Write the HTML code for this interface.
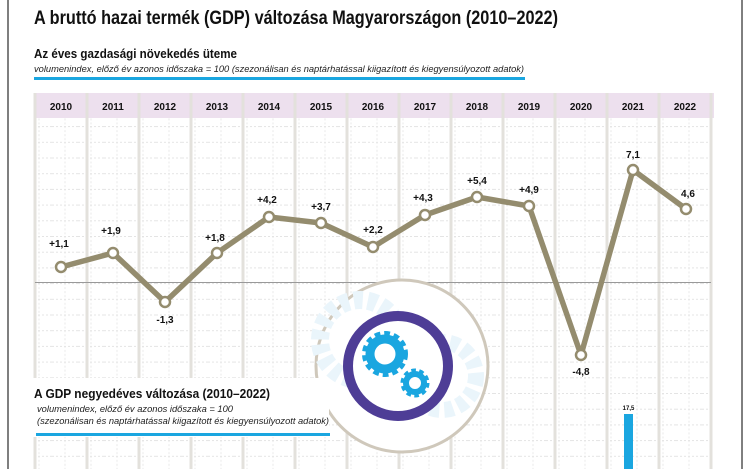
<!DOCTYPE html>
<html><head><meta charset="utf-8"><style>
html,body{margin:0;padding:0;background:#fff;}
body{width:750px;height:469px;overflow:hidden;position:relative;font-family:"Liberation Sans",sans-serif;}
</style></head><body>
<svg width="750" height="469" viewBox="0 0 750 469" xmlns="http://www.w3.org/2000/svg" style="position:absolute;left:0;top:0">
<defs>
<pattern id="hg" x="0" y="0.5" width="26" height="15.7" patternUnits="userSpaceOnUse">
<path d="M0 0.5H26" stroke="#dcdcdc" stroke-width="0.8" stroke-dasharray="2 2"/>
<path d="M13 0V15.7" stroke="#e4e4e4" stroke-width="0.8" stroke-dasharray="2 2"/>
</pattern>
</defs>
<rect x="8" y="-2" width="734" height="480" fill="none" stroke="#555" stroke-width="1.5"/>
<text x="34" y="24" font-size="19.5" font-weight="bold" fill="#111" textLength="524" lengthAdjust="spacingAndGlyphs">A bruttó hazai termék (GDP) változása Magyarországon (2010–2022)</text>
<text x="34" y="58" font-size="13" font-weight="bold" fill="#111" textLength="203" lengthAdjust="spacingAndGlyphs">Az éves gazdasági növekedés üteme</text>
<text x="34" y="72" font-size="9" font-style="italic" fill="#222" textLength="490" lengthAdjust="spacingAndGlyphs">volumenindex, előző év azonos időszaka = 100 (szezonálisan és naptárhatással kiigazított és kiegyensúlyozott adatok)</text>
<rect x="34" y="77" width="491" height="3" fill="#1aa6e0"/>
<rect x="35" y="118" width="677" height="351" fill="url(#hg)"/>
<rect x="34" y="93" width="680" height="25" fill="#ede0ee"/>
<g stroke="#e3e1dc" stroke-width="3">
<line x1="35" y1="93" x2="35" y2="469"/><line x1="87" y1="93" x2="87" y2="469"/><line x1="139" y1="93" x2="139" y2="469"/><line x1="191" y1="93" x2="191" y2="469"/><line x1="243" y1="93" x2="243" y2="469"/><line x1="295" y1="93" x2="295" y2="469"/><line x1="347" y1="93" x2="347" y2="469"/><line x1="399" y1="93" x2="399" y2="469"/><line x1="451" y1="93" x2="451" y2="469"/><line x1="503" y1="93" x2="503" y2="469"/><line x1="555" y1="93" x2="555" y2="469"/><line x1="607" y1="93" x2="607" y2="469"/><line x1="659" y1="93" x2="659" y2="469"/><line x1="711" y1="93" x2="711" y2="469"/>
</g>
<g font-size="10" font-weight="bold" fill="#111" text-anchor="middle">
<text x="61" y="110">2010</text><text x="113" y="110">2011</text><text x="165" y="110">2012</text><text x="217" y="110">2013</text><text x="269" y="110">2014</text><text x="321" y="110">2015</text><text x="373" y="110">2016</text><text x="425" y="110">2017</text><text x="477" y="110">2018</text><text x="529" y="110">2019</text><text x="581" y="110">2020</text><text x="633" y="110">2021</text><text x="685" y="110">2022</text>
</g>
<line x1="35" y1="282.5" x2="711" y2="282.5" stroke="#999" stroke-width="1"/>
<circle cx="402" cy="366" r="86" fill="#fff" stroke="#cfc8bb" stroke-width="3"/>
<circle cx="360" cy="340" r="40" fill="none" stroke="#eaf5fb" stroke-width="18" stroke-dasharray="9 5"/>
<circle cx="442" cy="376" r="34" fill="none" stroke="#eaf5fb" stroke-width="16" stroke-dasharray="9 5"/>
<circle cx="398" cy="366" r="50" fill="#fff" stroke="#4e3d96" stroke-width="10"/>
<circle cx="385" cy="354" r="18" fill="none" stroke="#1aa6e0" stroke-width="10" stroke-dasharray="5 3.4"/>
<circle cx="385" cy="354" r="15" fill="none" stroke="#1aa6e0" stroke-width="9"/>
<circle cx="415" cy="383" r="11" fill="none" stroke="#1aa6e0" stroke-width="7" stroke-dasharray="4 2.9"/>
<circle cx="415" cy="383" r="9" fill="none" stroke="#1aa6e0" stroke-width="6"/>
<rect x="9" y="378" width="320" height="59" fill="#fff"/>
<text x="34" y="398" font-size="12.5" font-weight="bold" fill="#111" textLength="236" lengthAdjust="spacingAndGlyphs">A GDP negyedéves változása (2010–2022)</text>
<text x="37" y="412" font-size="9" font-style="italic" fill="#222" textLength="196" lengthAdjust="spacingAndGlyphs">volumenindex, előző év azonos időszaka = 100</text>
<text x="37" y="424" font-size="9" font-style="italic" fill="#222" textLength="292" lengthAdjust="spacingAndGlyphs">(szezonálisan és naptárhatással kiigazított és kiegyensúlyozott adatok)</text>
<rect x="36" y="433" width="294" height="3" fill="#1aa6e0"/>
<rect x="624" y="414" width="9" height="55" fill="#1aa6e0"/>
<text x="628.5" y="410" font-size="6" font-weight="bold" fill="#111" text-anchor="middle">17,5</text>
<polyline points="61,267 113,253 165,302 217,253 269,217 321,223 373,247 425,215 477,197 529,206 581,355 633,170 686,209" fill="none" stroke="#948c6e" stroke-width="5.5" stroke-linejoin="round"/>
<g fill="#fff" stroke="#948c6e" stroke-width="2.5">
<circle cx="61" cy="267" r="5"/><circle cx="113" cy="253" r="5"/><circle cx="165" cy="302" r="5"/><circle cx="217" cy="253" r="5"/><circle cx="269" cy="217" r="5"/><circle cx="321" cy="223" r="5"/><circle cx="373" cy="247" r="5"/><circle cx="425" cy="215" r="5"/><circle cx="477" cy="197" r="5"/><circle cx="529" cy="206" r="5"/><circle cx="581" cy="355" r="5"/><circle cx="633" cy="170" r="5"/><circle cx="686" cy="209" r="5"/>
</g>
<g font-size="10" font-weight="bold" fill="#111" text-anchor="middle">
<text x="59" y="247">+1,1</text><text x="111" y="234">+1,9</text><text x="165" y="323">-1,3</text><text x="215" y="241">+1,8</text><text x="267" y="203">+4,2</text><text x="321" y="210">+3,7</text><text x="373" y="233">+2,2</text><text x="423" y="201">+4,3</text><text x="477" y="184">+5,4</text><text x="529" y="193">+4,9</text><text x="581" y="375">-4,8</text><text x="633" y="158">7,1</text><text x="688" y="197">4,6</text>
</g>
</svg>
</body></html>
